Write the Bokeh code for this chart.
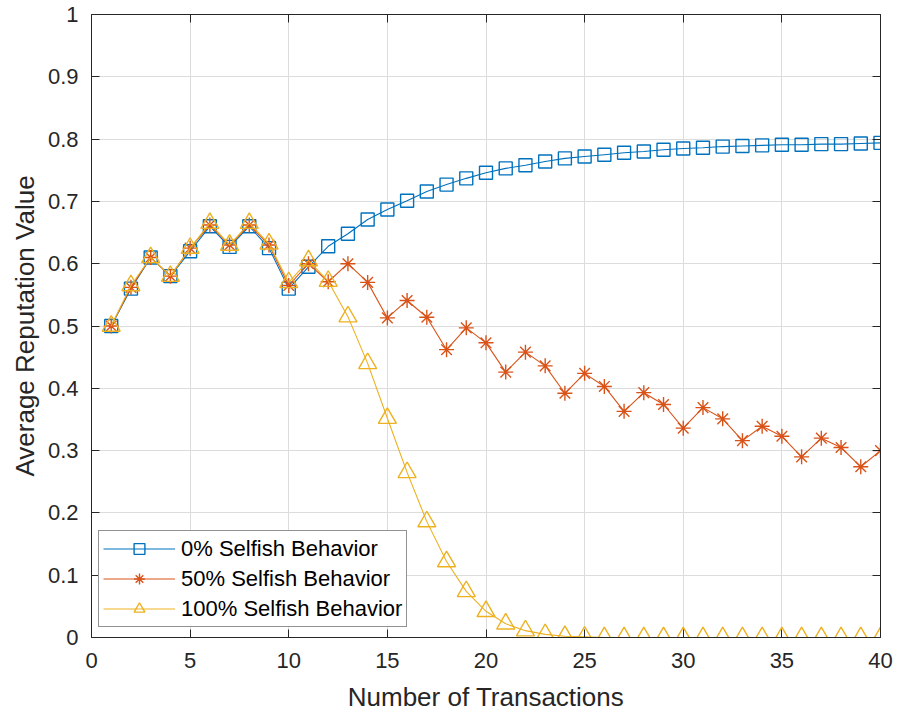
from bokeh.plotting import figure
from bokeh.models import LinearAxis, Range1d, FixedTicker, CustomJSTickFormatter, Legend, LegendItem
from bokeh.embed import file_html
from bokeh.resources import INLINE

transactions = list(range(1, 41))
selfish_0 = [0.50, 0.56, 0.61, 0.58, 0.62, 0.66, 0.627, 0.66, 0.625, 0.56, 0.595,
             0.628, 0.648, 0.671, 0.687, 0.701, 0.716, 0.727, 0.737, 0.746,
             0.753, 0.758, 0.764, 0.769, 0.772, 0.775, 0.778, 0.780, 0.783, 0.785,
             0.786, 0.788, 0.789, 0.790, 0.791, 0.791, 0.792, 0.792, 0.793, 0.794]
selfish_50 = [0.50, 0.562, 0.61, 0.58, 0.625, 0.662, 0.63, 0.662, 0.63, 0.565, 0.60,
              0.571, 0.60, 0.57, 0.513, 0.541, 0.514, 0.462, 0.497, 0.473,
              0.426, 0.458, 0.436, 0.392, 0.424, 0.403, 0.363, 0.393, 0.374, 0.336,
              0.369, 0.351, 0.316, 0.339, 0.323, 0.290, 0.320, 0.305, 0.274, 0.300]
selfish_100 = [0.50, 0.565, 0.61, 0.58, 0.625, 0.665, 0.63, 0.665, 0.632, 0.57, 0.605,
               0.572, 0.515, 0.44, 0.352, 0.265, 0.186, 0.122, 0.074, 0.042,
               0.022, 0.011, 0.005, 0.002, 0.001, 0.0, 0.0, 0.0, 0.0, 0.0,
               0.0, 0.0, 0.0, 0.0, 0.0, 0.0, 0.0, 0.0, 0.0, 0.0]
labels = ["0% Selfish Behavior", "50% Selfish Behavior", "100% Selfish Behavior"]
x_ticks = [0, 5, 10, 15, 20, 25, 30, 35, 40]
y_ticks = [0, 0.1, 0.2, 0.3, 0.4, 0.5, 0.6, 0.7, 0.8, 0.9, 1.0]

FONT = "Liberation Sans"
AX = "#262626"
BLUE, RED, YEL = "#0072BD", "#D95319", "#EDB120"

p = figure(width=897, height=717, output_backend="svg", toolbar_location=None,
           x_range=Range1d(0, 40), y_range=Range1d(0, 1),
           min_border_left=91, min_border_right=17, min_border_top=14, min_border_bottom=80)
p.outline_line_color = None
p.background_fill_color = "white"

fmt = CustomJSTickFormatter(code="return (Math.round(tick*10)/10).toString();")

def style_axis(ax, show_labels):
    ax.axis_line_color = AX
    ax.axis_line_width = 1
    ax.major_tick_line_color = AX
    ax.major_tick_in = 8
    ax.major_tick_out = 0
    ax.minor_tick_line_color = None
    ax.major_label_text_font = FONT
    ax.major_label_text_font_size = "22px"
    ax.major_label_text_color = AX if show_labels else None
    ax.axis_label_text_font = FONT
    ax.axis_label_text_font_size = "26px"
    ax.axis_label_text_font_style = "normal"
    ax.axis_label_text_color = AX

p.xaxis.ticker = FixedTicker(ticks=x_ticks)
p.yaxis.ticker = FixedTicker(ticks=y_ticks)
p.xaxis.formatter = fmt
p.yaxis.formatter = fmt
p.xaxis.axis_label = "Number of Transactions"
p.yaxis.axis_label = "Average Reputation Value"
style_axis(p.xaxis[0], True)
style_axis(p.yaxis[0], True)
p.xaxis.major_label_standoff = 15
p.yaxis.major_label_standoff = 13
p.xaxis.axis_label_standoff = 11
p.yaxis.axis_label_standoff = 5

top = LinearAxis(ticker=FixedTicker(ticks=x_ticks))
style_axis(top, False)
p.add_layout(top, "above")
right = LinearAxis(ticker=FixedTicker(ticks=y_ticks))
style_axis(right, False)
p.add_layout(right, "right")
top.major_label_text_font_size = "0px"
right.major_label_text_font_size = "0px"

p.grid.grid_line_color = "#dcdcdc"
p.xgrid.ticker = FixedTicker(ticks=x_ticks)
p.ygrid.ticker = FixedTicker(ticks=y_ticks)

l0 = p.line(transactions, selfish_0, line_color=BLUE, line_width=1.1)
m0 = p.scatter(transactions, selfish_0, marker="square", size=13, fill_color=None,
               line_color=BLUE, line_width=1.4)
l1 = p.line(transactions, selfish_50, line_color=RED, line_width=1.1)
m1 = p.scatter(transactions, selfish_50, marker="asterisk", size=15,
               line_color=RED, line_width=1.4)
l2 = p.line(transactions, selfish_100, line_color=YEL, line_width=1.1)
m2 = p.scatter(transactions, selfish_100, marker="triangle", size=18, fill_color=None,
               line_color=YEL, line_width=1.4)

legend = Legend(items=[LegendItem(label=labels[0], renderers=[l0, m0]),
                       LegendItem(label=labels[1], renderers=[l1, m1]),
                       LegendItem(label=labels[2], renderers=[l2, m2])],
                location=(7, 10))
legend.label_text_font = FONT
legend.label_text_font_size = "22px"
legend.label_text_color = "black"
legend.glyph_width = 72
legend.glyph_height = 27
legend.spacing = 3
legend.padding = 4
legend.margin = 0
legend.border_line_color = AX
legend.border_line_width = 1
legend.background_fill_color = "white"
legend.background_fill_alpha = 1
legend.label_standoff = 6
p.add_layout(legend, "center")

open("out.html", "w").write(file_html(p, INLINE))
